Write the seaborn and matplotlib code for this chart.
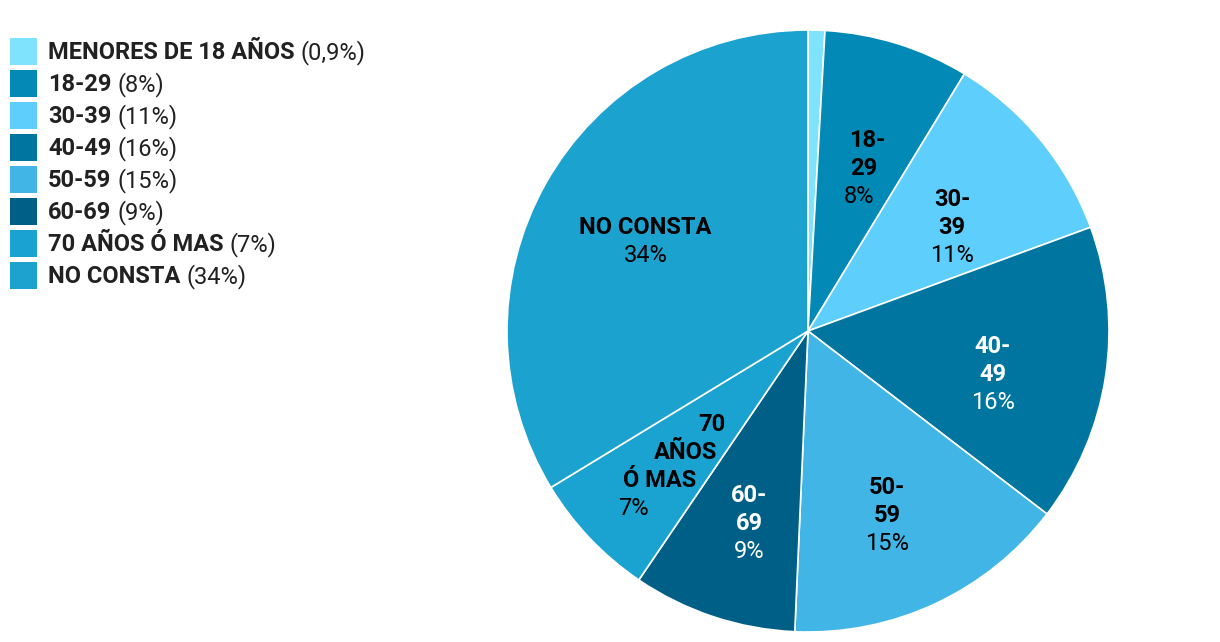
import matplotlib
matplotlib.use("Agg")
import matplotlib.pyplot as plt
import matplotlib.transforms as mtransforms
from matplotlib.patches import Rectangle
import numpy as np
import seaborn as sns

# ---- data ----
categories = ["MENORES DE 18 AÑOS", "18-29", "30-39", "40-49", "50-59",
              "60-69", "70 AÑOS Ó MAS", "NO CONSTA"]
values = [0.9, 7.8, 10.7, 16.0, 15.3, 8.8, 6.8, 33.7]
pct_labels = ["0,9%", "8%", "11%", "16%", "15%", "9%", "7%", "34%"]
slice_names = [None, "18-\n29", "30-\n39", "40-\n49", "50-\n59", "60-\n69",
               "70\nAÑOS\nÓ MAS", "NO CONSTA"]
colors = ["#7FE3FE", "#0289B5", "#5ECEFC", "#0075A0", "#41B6E6",
          "#005F87", "#1AA3D0", "#1BA2CF"]
label_colors = ["black", "black", "black", "white", "black", "white",
                "black", "black"]
# per-line horizontal stagger of the in-slice labels (layout only)
label_shear = [0, 4, 0, 0, 0, 0, 26, 0]

sns.set_theme(style="white")
plt.rcParams["font.family"] = ["Roboto", "DejaVu Sans"]

W, H = 1220, 642
fig = plt.figure(figsize=(W / 100, H / 100), dpi=100)
fig.patch.set_facecolor("white")

cx, cy, R = 808, 331, 301
ax = fig.add_axes([(cx - R) / W, (H - cy - R) / H, 2 * R / W, 2 * R / H])
palette = sns.color_palette(colors)
res = ax.pie(values, colors=palette, startangle=90, counterclock=False,
             radius=1, wedgeprops=dict(edgecolor="white", linewidth=1.2))
wedges = res[0]
ax.set_xlim(-1, 1)
ax.set_ylim(-1, 1)
ax.axis("off")

# slice labels
fs_lab = 17
line_h = 28
for w, name, pct, tc, sh in zip(wedges, slice_names, pct_labels, label_colors,
                                label_shear):
    if name is None:
        continue
    th = np.deg2rad((w.theta1 + w.theta2) / 2)
    x, y = 0.62 * np.cos(th), 0.62 * np.sin(th)
    lines = name.split("\n")
    n = len(lines) + 1
    top = 28 + max(0, n - 3) * 23
    for i, ln in enumerate(lines + [pct]):
        off = top - 14 - line_h * i - 8
        dx = -sh * (i - (n - 1) / 2)
        tr = mtransforms.offset_copy(ax.transData, fig=fig, x=dx, y=off,
                                     units="dots")
        ax.text(x, y, ln, transform=tr, ha="center", va="baseline",
                fontsize=fs_lab, color=tc,
                fontweight="bold" if i < len(lines) else "normal")

# legend (manual, mixed weights)
fig.canvas.draw()
renderer = fig.canvas.get_renderer()
for i, (cat, pct, col) in enumerate(zip(categories, pct_labels, colors)):
    top = 38 + 32 * i
    fig.patches.append(Rectangle((10 / W, 1 - (top + 27) / H), 27 / W, 27 / H,
                                 transform=fig.transFigure, facecolor=col,
                                 edgecolor="none"))
    base = 1 - (top + 21) / H
    t = fig.text(48 / W, base, cat, fontsize=17, fontweight="bold",
                 color="#212121", va="baseline", ha="left")
    bb = t.get_window_extent(renderer)
    fig.text((bb.x1 + 6) / W, base, "(" + pct + ")", fontsize=17,
             color="#212121", va="baseline", ha="left")

fig.savefig("out.png", dpi=100, facecolor="white")
